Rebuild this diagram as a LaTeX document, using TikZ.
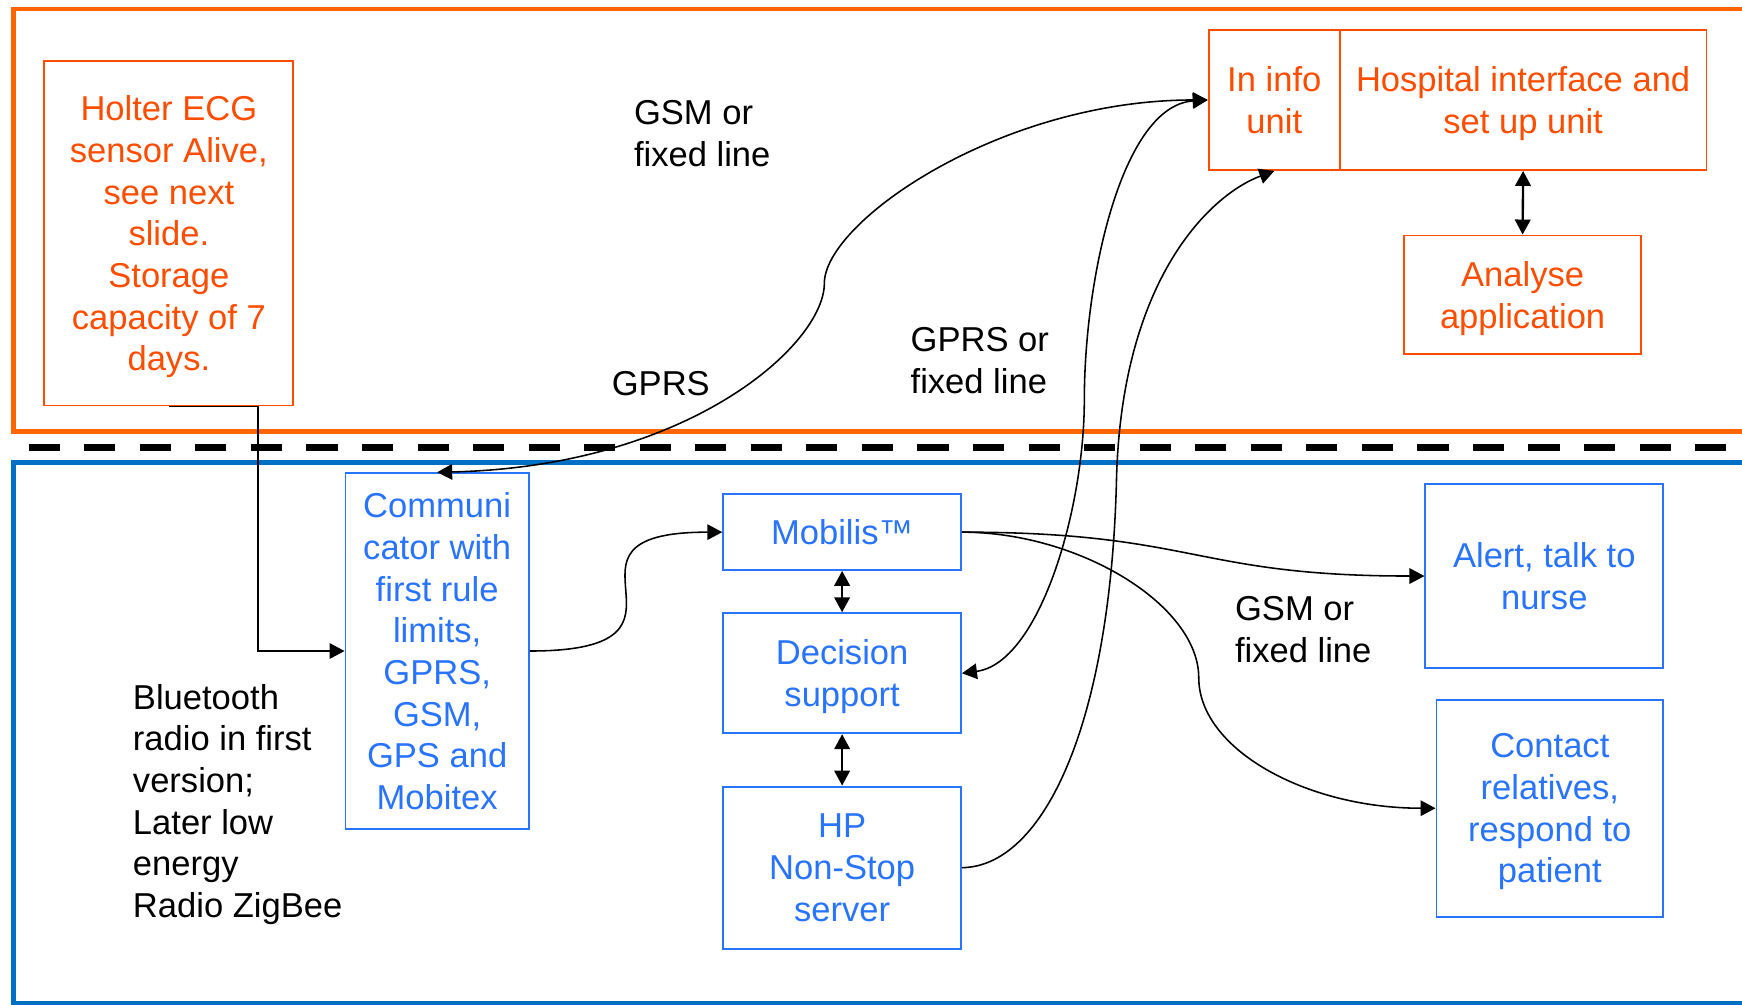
\documentclass[tikz,border=0pt]{standalone}
\usepackage{fontspec}
\setmainfont{Liberation Sans}
\usetikzlibrary{arrows.meta}
\definecolor{frameorange}{RGB}{255,102,0}
\definecolor{textorange}{RGB}{255,77,0}
\definecolor{frameblue}{RGB}{0,112,196}
\definecolor{textblue}{RGB}{41,116,255}
\begin{document}
\begin{tikzpicture}[
        font=\fontsize{8.85}{10.67}\selectfont,
        hospbox/.style={draw=textorange, text=textorange, line width=0.5pt, align=center, inner sep=0pt, text depth=0pt},
        homebox/.style={draw=textblue, text=textblue, line width=0.5pt, align=center, inner sep=0pt, text depth=0pt},
        note/.style={align=left, inner sep=0pt, anchor=west},
        tip/.tip={Triangle[length=1.35mm,width=1.4mm]},
        link/.style={line width=0.4pt, -tip},
        both/.style={line width=0.4pt, tip-tip},
        stack/.style={line width=0.6pt, tip-tip}
    ]
        \useasboundingbox (0,0) rectangle (15.68,-9.045);

        \draw[frameorange, line width=1.2pt] (15.80,-0.08) -- (0.12,-0.08) -- (0.12,-3.885) -- (15.80,-3.885);
        \draw[line width=1.9pt, dash pattern=on 2.8mm off 2.2mm] (0.258,-4.026) -- (15.80,-4.026);
        \draw[frameblue, line width=1.2pt] (15.80,-4.165) -- (0.12,-4.165) -- (0.12,-9.03) -- (15.80,-9.03);

        \node[hospbox, minimum width=2.24cm, minimum height=3.10cm] (holter) at (1.52,-2.10) {Holter ECG\\sensor Alive,\\see next\\slide.\\Storage\\capacity of 7\\days.};
        \node[hospbox, minimum width=1.18cm, minimum height=1.26cm] (info) at (11.47,-0.90) {In info\\unit};
        \node[hospbox, minimum width=3.30cm, minimum height=1.26cm] (hosp) at (13.71,-0.90) {Hospital interface and\\set up unit};
        \node[hospbox, minimum width=2.13cm, minimum height=1.07cm] (anal) at (13.705,-2.655) {Analyse\\application};

        \node[homebox, minimum width=1.65cm, minimum height=3.20cm] (comm) at (3.935,-5.86) {Communi\\cator with\\first rule\\limits,\\GPRS,\\GSM,\\GPS and\\Mobitex};
        \node[homebox, minimum width=2.14cm, minimum height=0.68cm] (mob) at (7.58,-4.79) {Mobilis™};
        \node[homebox, minimum width=2.14cm, minimum height=1.08cm] (dec) at (7.58,-6.06) {Decision\\support};
        \node[homebox, minimum width=2.14cm, minimum height=1.46cm] (hp) at (7.58,-7.81) {HP\\Non-Stop\\server};
        \node[homebox, minimum width=2.14cm, minimum height=1.65cm] (alert) at (13.90,-5.185) {Alert, talk to\\nurse};
        \node[homebox, minimum width=2.04cm, minimum height=1.95cm] (contact) at (13.95,-7.275) {Contact\\relatives,\\respond to\\patient};

        \node[note] (gsmtop) at (5.70,-1.205) {GSM or\\fixed line};
        \node[note] (gprs) at (5.50,-3.45) {GPRS};
        \node[note] (gprsfix) at (8.19,-3.245) {GPRS or\\fixed line};
        \node[note] (gsmbot) at (11.11,-5.67) {GSM or\\fixed line};
        \node[note] (radio) at (1.19,-7.24) {Bluetooth\\radio in first\\version;\\Later low\\energy\\Radio ZigBee};

        \coordinate (gprsbend) at (7.42,-2.55);
        \coordinate (decbend) at (9.76,-3.60);
        \coordinate (hpbend) at (10.05,-4.30);
        \coordinate (contbend) at (10.79,-6.10);

        \draw[link] (holter.south) -- ++(0.80,0) |- (comm.west);
        \draw[both] (comm.north) .. controls (6.20,-4.20) and (7.42,-3.10) .. (gprsbend) .. controls (7.42,-2.00) and (9.00,-0.90) .. (info.west);
        \draw[both] (dec.east) .. controls (9.35,-5.97) and (9.76,-4.60) .. (decbend) .. controls (9.76,-2.50) and (10.10,-0.95) .. (info.west);
        \draw[link] (hp.east) .. controls (9.40,-7.80) and (10.00,-6.50) .. (hpbend) .. controls (10.10,-2.50) and (10.90,-1.75) .. (info.south);
        \draw[link] (comm.east) .. controls +(1.77,0) and +(-1.73,0) .. (mob.west);
        \draw[link] (mob.east) .. controls +(2.10,0) and +(-2.08,0) .. (alert.west);
        \draw[link] (mob.east) .. controls (9.72,-4.79) and (10.79,-5.45) .. (contbend) .. controls (10.79,-6.74) and (11.75,-7.275) .. (contact.west);
        \draw[stack] (mob.south) -- (dec.north);
        \draw[stack] (dec.south) -- (hp.north);
        \draw[stack] (hosp.south) -- (anal.north);
\end{tikzpicture}
\end{document}
